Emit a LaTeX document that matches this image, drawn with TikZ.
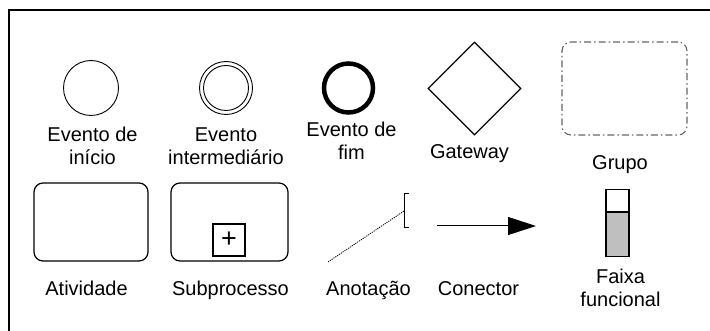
\documentclass[tikz,border=0pt]{standalone}
\usepackage{fontspec}
\setmainfont{Liberation Sans}
\usetikzlibrary{shapes.geometric,arrows.meta}
\begin{document}
\begin{tikzpicture}[x=1pt,y=-1pt,
  lbl/.style={font=\fontsize{20}{23}\selectfont, align=center, anchor=base, inner sep=0},
  evt/.style={circle, draw, inner sep=0, minimum size=#1},
  act/.style={draw, rounded corners=9pt, line width=1.2pt, minimum width=114pt, minimum height=78pt, inner sep=0},
]
\useasboundingbox (0,0) rectangle (710,331);
\draw[line width=2pt] (9,331) -- (9,10) -- (711,10);

% row 1
\node[evt=55, line width=0.9pt] (start) at (91,88) {};
\node[lbl] (startL) at (92.5,165) {Evento de\\início};

\node[evt=53, line width=0.9pt] (inter) at (226,88) {};
\node[evt=45, line width=0.9pt] (interIn) at (226,88) {};
\node[lbl] (interL) at (226,165) {Evento\\intermediário};

\node[evt=49, line width=4.5pt] (end) at (348.5,88) {};
\node[lbl] (endL) at (351.5,160) {Evento de\\fim};

\node[diamond, draw, line width=1.2pt, minimum width=93pt, minimum height=93pt, inner sep=0] (gw) at (474.5,88.5) {};
\node[lbl] (gwL) at (469.5,159) {Gateway};

\node[draw=gray!80!black, line width=1.1pt, rounded corners=9pt, dash pattern=on 7pt off 3pt on 1.5pt off 3pt, minimum width=125pt, minimum height=93pt, inner sep=0] (grp) at (624.5,88.5) {};
\node[lbl] (grpL) at (620,170) {Grupo};

% row 2
\node[act] (act) at (91,222) {};
\node[lbl] (actL) at (86.5,295) {Atividade};

\node[act, minimum width=117pt] (sub) at (229.5,222) {};
\node[draw, line width=1.2pt, minimum width=32pt, minimum height=32pt, inner sep=0, font=\fontsize{27}{27}\selectfont] (plus) at (229,240) {+};
\node[lbl] (subL) at (230.5,295) {Subprocesso};

\coordinate (annA) at (328,262);
\coordinate (brk) at (404,211);
\draw[line width=0.8pt, dash pattern=on 1.2pt off 1pt] (annA) -- (brk);
\draw[line width=0.9pt] (408.5,193) -- (404,193) -- (404,227) -- (408.5,227);
\node[lbl] (annL) at (368.5,295) {Anotação};

\coordinate (cA) at (437,226);
\coordinate (cB) at (536,226);
\draw[line width=1pt, -{Triangle[length=28pt, width=18pt]}] (cA) -- (cB);
\node[lbl] (conL) at (478.5,295) {Conector};

\node[draw, line width=1.2pt, minimum width=23pt, minimum height=22pt, inner sep=0, anchor=north] (laneTop) at (617.5,189) {};
\node[draw, line width=1.2pt, fill=black!25, minimum width=23pt, minimum height=44pt, inner sep=0, anchor=north] (laneBot) at (laneTop.south) {};
\node[lbl] (laneL) at (620.5,306.5) {Faixa\\funcional};
\end{tikzpicture}
\end{document}
